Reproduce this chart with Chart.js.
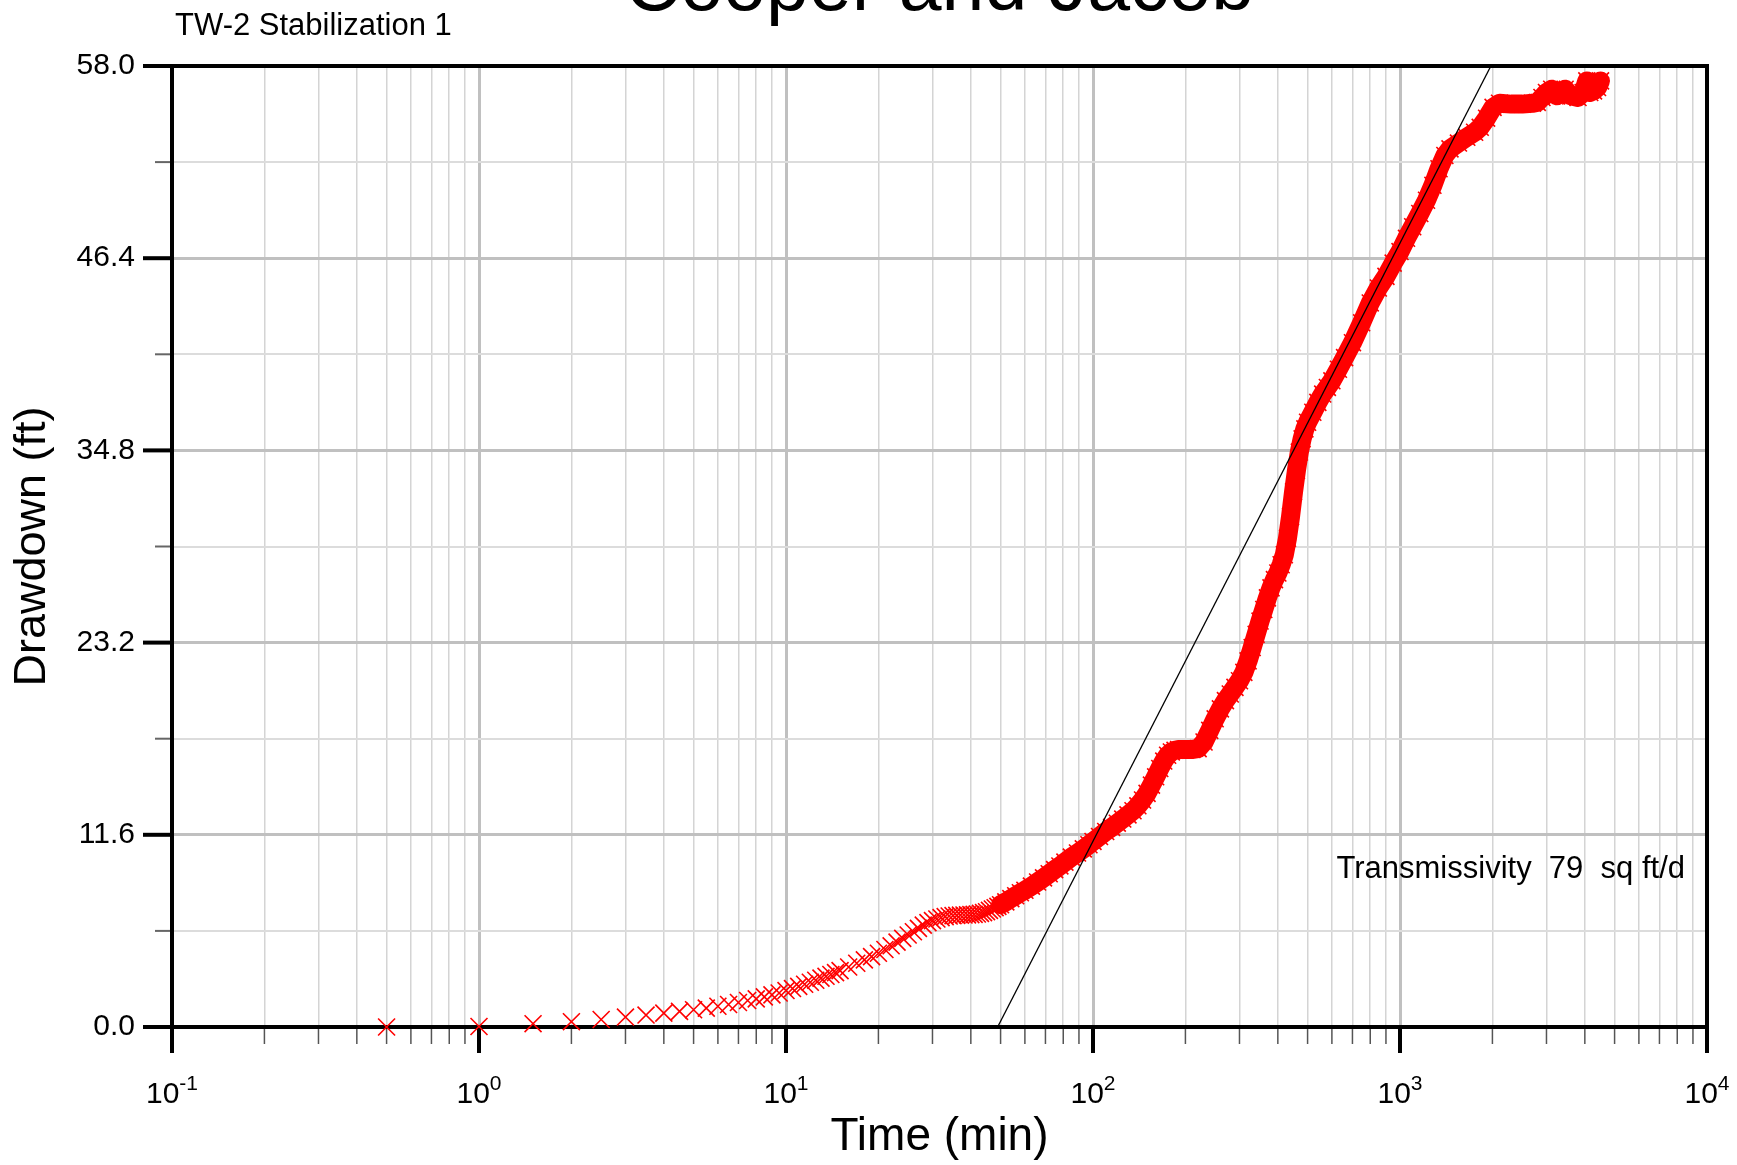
<!DOCTYPE html>
<html>
<head>
<meta charset="utf-8">
<title>Cooper and Jacob</title>
<script src="https://cdn.jsdelivr.net/npm/chart.js@4.4.1/dist/chart.umd.min.js"></script>
<style>
  html, body { margin: 0; padding: 0; background: #fff; }
  canvas { display: block; }
</style>
</head>
<body>
<canvas id="cjChart" width="1737" height="1165"></canvas>
<script>
// TW-2 stabilization 1 - drawdown readings
const timeMin = [
  0.5, 1, 1.5, 2, 2.5, 3, 3.5, 4, 4.5, 5, 5.5, 6, 6.5, 7, 7.5, 8, 8.5, 9, 9.5, 10,
  10.5, 11, 11.5, 12, 12.5, 13, 13.5, 14, 14.5, 15, 16, 17, 18, 19, 20, 21, 22, 23, 24, 25,
  26, 27, 28, 29, 30, 31, 32, 33, 34, 35, 36, 37, 38, 39, 40, 41, 42, 43, 44, 45,
  46, 47, 48, 49, 50, 52, 54, 56, 58, 60, 63, 66, 69, 72, 75, 78, 81, 85, 89, 93,
  97, 100, 105, 110, 115, 120, 125, 130, 135, 140, 145, 150, 155, 160, 165, 170, 175, 180, 185, 190,
  200, 210, 220, 230, 240, 250, 260, 270, 280, 290, 300, 310, 320, 330, 340, 350, 360, 370, 380, 390,
  400, 410, 420, 430, 440, 450, 460, 470, 480, 490, 500, 520, 540, 560, 580, 600, 630, 660, 700, 750,
  800, 850, 900, 950, 1000, 1050, 1100, 1160, 1220, 1280, 1340, 1400, 1455, 1550, 1650, 1750, 1825, 1915, 2010, 2110,
  2300, 2500, 2700, 2800, 2900, 3000, 3120, 3240, 3350, 3450, 3600, 3800, 3950, 4060, 4150, 4270, 4400, 4500
];
const drawdownFt = [
  0.0, 0.03, 0.2, 0.32, 0.45, 0.6, 0.72, 0.84, 0.94, 1.04, 1.14, 1.25, 1.36, 1.48, 1.6, 1.7, 1.82, 1.94, 2.05, 2.2,
  2.32, 2.45, 2.58, 2.7, 2.82, 2.95, 3.06, 3.17, 3.28, 3.4, 3.62, 3.85, 4.05, 4.25, 4.45, 4.68, 4.9, 5.12, 5.35, 5.55,
  5.75, 5.95, 6.15, 6.3, 6.42, 6.52, 6.6, 6.66, 6.7, 6.72, 6.74, 6.75, 6.76, 6.77, 6.78, 6.8, 6.82, 6.86, 6.9, 6.96,
  7.04, 7.12, 7.2, 7.28, 7.38, 7.55, 7.75, 7.92, 8.1, 8.25, 8.5, 8.75, 9.0, 9.25, 9.5, 9.72, 9.95, 10.25, 10.5, 10.75,
  11.0, 11.2, 11.5, 11.8, 12.05, 12.3, 12.55, 12.8, 13.05, 13.35, 13.7, 14.1, 14.6, 15.1, 15.6, 16.05, 16.4, 16.6, 16.7, 16.75,
  16.75, 16.75, 16.8, 17.2, 17.9, 18.6, 19.2, 19.7, 20.1, 20.5, 20.9, 21.4, 22.1, 22.9, 23.7, 24.5, 25.2, 25.9, 26.5, 27.0,
  27.4, 27.9, 28.5, 29.5, 30.8, 32.3, 33.6, 34.7, 35.5, 36.1, 36.5, 37.1, 37.7, 38.2, 38.6, 39.0, 39.7, 40.4, 41.3, 42.5,
  43.7, 44.6, 45.3, 46.1, 46.8, 47.6, 48.3, 49.1, 49.9, 50.8, 51.8, 52.6, 53.0, 53.35, 53.7, 54.0, 54.3, 54.85, 55.5, 55.75,
  55.7, 55.7, 55.75, 55.8, 56.1, 56.4, 56.6, 56.2, 56.45, 56.6, 56.2, 56.1, 56.4, 57.1, 56.4, 56.5, 56.7, 57.1
];

// straight line fit drawn through the data
const fitTime = [48.9, 1977];
const fitDrawdown = [0, 58];

const yTicks = [0, 5.8, 11.6, 17.4, 23.2, 29.0, 34.8, 40.6, 46.4, 52.2, 58.0];
const yLabelled = [0, 11.6, 23.2, 34.8, 46.4, 58.0];
const decades = [0.1, 1, 10, 100, 1000, 10000];
const decadeExp = ['-1', '0', '1', '2', '3', '4'];

const FONT = "'Liberation Sans', Arial, Helvetica, sans-serif";
const bandStart = 50; // past this the markers run together into a solid band

const xTicks = [];
decades.slice(0, -1).forEach(d => {
  for (let m = 1; m <= 9; m++) xTicks.push(d * m);
});
xTicks.push(10000);

const isDecade = v => decades.some(d => Math.abs(v / d - 1) < 1e-6);
const isYMajor = v => yLabelled.some(m => Math.abs(v - m) < 1e-6);

const frameAndTicks = {
  id: 'frameAndTicks',
  beforeDatasetsDraw(chart) {
    const { ctx, chartArea: a, scales: { x, y } } = chart;
    ctx.save();
    x.ticks.forEach(t => {
      const px = x.getPixelForValue(t.value);
      const major = isDecade(t.value);
      ctx.beginPath();
      ctx.lineWidth = major ? 4 : 1.5;
      ctx.strokeStyle = major ? '#000' : '#555';
      ctx.moveTo(px, a.bottom);
      ctx.lineTo(px, a.bottom + (major ? 26 : 17));
      ctx.stroke();
    });
    y.ticks.forEach(t => {
      const py = y.getPixelForValue(t.value);
      const major = isYMajor(t.value);
      ctx.beginPath();
      ctx.lineWidth = major ? 4 : 2;
      ctx.strokeStyle = major ? '#000' : '#666';
      ctx.moveTo(a.left - (major ? 29 : 17), py);
      ctx.lineTo(a.left, py);
      ctx.stroke();
    });
    ctx.lineWidth = 4;
    ctx.strokeStyle = '#000';
    ctx.strokeRect(a.left, a.top, a.right - a.left, a.bottom - a.top);
    ctx.restore();
  },
  afterDraw(chart) {
    const { ctx, chartArea: a, scales: { x } } = chart;
    ctx.save();
    ctx.fillStyle = '#000';
    ctx.textBaseline = 'alphabetic';

    ctx.font = '77px ' + FONT;
    ctx.textAlign = 'center';
    ctx.fillText('Cooper and Jacob', (a.left + a.right) / 2, 10);

    ctx.font = '31px ' + FONT;
    ctx.textAlign = 'left';
    ctx.fillText('TW-2 Stabilization 1', 175, 35);

    // decade labels with raised exponents
    decades.forEach((d, i) => {
      const px = x.getPixelForValue(d);
      ctx.font = '30px ' + FONT;
      const wb = ctx.measureText('10').width;
      ctx.font = '21px ' + FONT;
      const we = ctx.measureText(decadeExp[i]).width;
      const x0 = px - (wb + we) / 2;
      ctx.textAlign = 'left';
      ctx.font = '30px ' + FONT;
      ctx.fillText('10', x0, a.bottom + 76);
      ctx.font = '21px ' + FONT;
      ctx.fillText(decadeExp[i], x0 + wb, a.bottom + 63);
    });

    ctx.font = '31px ' + FONT;
    ctx.textAlign = 'right';
    ctx.fillText('Transmissivity  79  sq ft/d', a.right - 22, a.bottom - 149);
    ctx.restore();
  }
};

const ctx = document.getElementById('cjChart').getContext('2d');
const cjChart = new Chart(ctx, {
  type: 'scatter',
  data: {
    datasets: [{
      label: 'Fit',
      data: fitTime.map((t, i) => ({ x: t, y: fitDrawdown[i] })),
      showLine: true,
      borderColor: '#000',
      borderWidth: 1.3,
      pointRadius: 0
    }, {
      label: 'Drawdown',
      data: timeMin.map((t, i) => ({ x: t, y: drawdownFt[i] })),
      showLine: true,
      clip: false,
      borderColor: '#ff0000',
      borderWidth: 19,
      borderJoinStyle: 'round',
      borderCapStyle: 'round',
      segment: {
        borderColor: c => c.p0.parsed.x < bandStart ? 'rgba(0,0,0,0)' : '#ff0000'
      },
      pointStyle: 'crossRot',
      pointRadius: 12,
      pointBorderWidth: 1.6,
      pointBorderColor: '#ff0000',
      pointBackgroundColor: '#ff0000'
    }]
  },
  options: {
    responsive: false,
    animation: false,
    devicePixelRatio: 1,
    layout: { padding: { top: 66, right: 30, left: 0, bottom: 0 } },
    plugins: {
      legend: { display: false },
      tooltip: { enabled: false }
    },
    scales: {
      x: {
        type: 'logarithmic',
        min: 0.1,
        max: 10000,
        afterBuildTicks: s => { s.ticks = xTicks.map(v => ({ value: v })); },
        afterFit: s => { s.height = 138; },
        ticks: { display: false },
        grid: {
          drawTicks: false,
          color: c => isDecade(c.tick.value) ? '#c0c0c0' : '#d4d4d4',
          lineWidth: c => isDecade(c.tick.value) ? 3 : 1.5
        },
        border: { display: true, color: '#000', width: 4 },
        title: {
          display: true,
          text: 'Time (min)',
          color: '#000',
          font: { family: FONT, size: 46 },
          padding: { top: 0, bottom: 0 }
        }
      },
      y: {
        min: 0,
        max: 58,
        afterBuildTicks: s => { s.ticks = yTicks.map(v => ({ value: v })); },
        afterFit: s => { s.width = 172; },
        ticks: {
          autoSkip: false,
          padding: 37,
          color: '#000',
          font: { family: FONT, size: 30 },
          callback: v => isYMajor(v) ? v.toFixed(1) : ''
        },
        grid: {
          drawTicks: false,
          color: c => isYMajor(c.tick.value) ? '#c0c0c0' : '#dcdcdc',
          lineWidth: c => isYMajor(c.tick.value) ? 3 : 2
        },
        border: { display: true, color: '#000', width: 4 },
        title: {
          display: true,
          text: 'Drawdown (ft)',
          color: '#000',
          font: { family: FONT, size: 45 },
          padding: { top: 6, bottom: 0 }
        }
      }
    }
  },
  plugins: [frameAndTicks]
});
</script>
</body>
</html>
